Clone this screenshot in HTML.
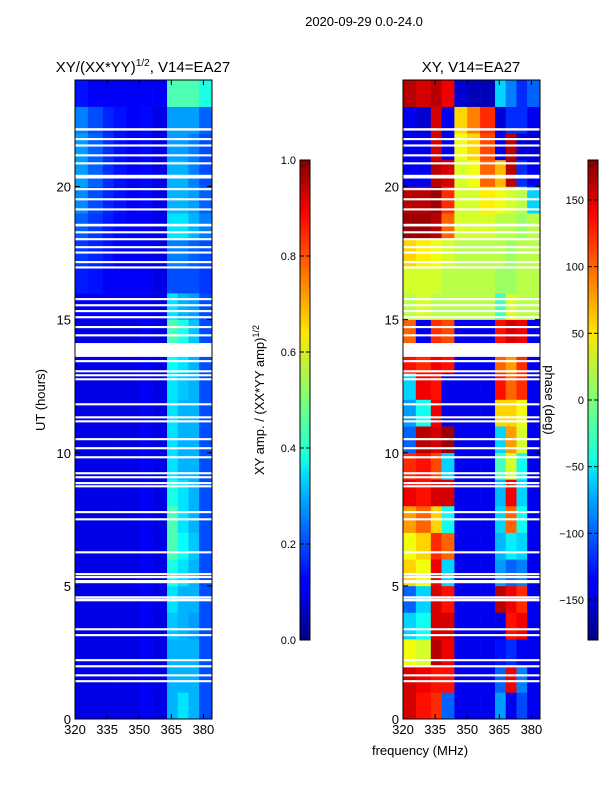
<!DOCTYPE html>
<html><head><meta charset="utf-8"><style>
body{margin:0;background:#fff;font-family:"Liberation Sans",sans-serif;}
svg text{font-family:"Liberation Sans",sans-serif;fill:#000;}
</style></head><body>
<svg id="fig" width="600" height="800" xmlns="http://www.w3.org/2000/svg">
<defs>
<linearGradient id="jet" x1="0" y1="1" x2="0" y2="0">
<stop offset="0" stop-color="#00007f"/><stop offset="0.11" stop-color="#0000ff"/>
<stop offset="0.125" stop-color="#0000ff"/><stop offset="0.34" stop-color="#00d5ff"/>
<stop offset="0.375" stop-color="#14ffe2"/><stop offset="0.5" stop-color="#7cff79"/>
<stop offset="0.64" stop-color="#ffe600"/><stop offset="0.75" stop-color="#ff8000"/>
<stop offset="0.89" stop-color="#ff0000"/><stop offset="1" stop-color="#7f0000"/>
</linearGradient>
</defs>
<text x="364" y="26" font-size="13" text-anchor="middle">2020-09-29 0.0-24.0</text>
<text x="143" y="72" font-size="15" text-anchor="middle">XY/(XX*YY)<tspan font-size="10" dy="-6">1/2</tspan><tspan dy="6">, V14=EA27</tspan></text>
<text x="471" y="72" font-size="15" text-anchor="middle">XY, V14=EA27</text>
<text x="45" y="400" font-size="13" text-anchor="middle" transform="rotate(-90 45 400)">UT (hours)</text>
<text x="420" y="755" font-size="13" text-anchor="middle">frequency (MHz)</text>
<text x="264" y="400" font-size="13" text-anchor="middle" transform="rotate(-90 264 400)">XY amp. / (XX*YY amp)<tspan font-size="9" dy="-5">1/2</tspan></text>
<text x="545" y="400" font-size="13" text-anchor="middle" transform="rotate(90 545 400)">phase (deg)</text>
<g id="left"></g>
<g id="right"></g>
<g id="axes"></g>
</svg>
<script>
const freqEdges=[320,326,333,338,344,350,356,363,368,373,378,384];
// rows: hour 0..23 (bottom to top)
const ampRows=[
[0.1,0.1,0.1,0.1,0.1,0.12,0.1,0.3,0.35,0.3,0.2],
[0.1,0.1,0.1,0.1,0.1,0.12,0.1,0.3,0.3,0.3,0.2],
[0.1,0.1,0.1,0.1,0.1,0.12,0.1,0.3,0.3,0.3,0.2],
[0.1,0.1,0.1,0.1,0.1,0.12,0.1,0.32,0.3,0.28,0.2],
[0.1,0.1,0.1,0.1,0.1,0.12,0.1,0.35,0.3,0.3,0.2],
[0.1,0.1,0.1,0.1,0.1,0.12,0.1,0.4,0.35,0.3,0.2],
[0.1,0.1,0.1,0.1,0.1,0.12,0.1,0.45,0.38,0.32,0.2],
[0.1,0.1,0.1,0.1,0.1,0.12,0.1,0.45,0.35,0.3,0.2],
[0.1,0.1,0.1,0.1,0.1,0.12,0.1,0.4,0.35,0.3,0.2],
[0.1,0.1,0.1,0.1,0.1,0.12,0.1,0.35,0.3,0.3,0.2],
[0.1,0.1,0.1,0.1,0.1,0.12,0.1,0.35,0.3,0.3,0.2],
[0.1,0.1,0.1,0.1,0.1,0.12,0.1,0.35,0.3,0.3,0.2],
[0.1,0.1,0.1,0.1,0.1,0.12,0.1,0.35,0.32,0.3,0.2],
[0.1,0.1,0.1,0.1,0.1,0.12,0.1,0.38,0.35,0.3,0.2],
[0.1,0.1,0.1,0.1,0.1,0.12,0.1,0.45,0.4,0.32,0.2],
[0.12,0.12,0.12,0.12,0.12,0.12,0.1,0.35,0.3,0.28,0.2],
[0.15,0.14,0.12,0.12,0.12,0.12,0.1,0.2,0.2,0.2,0.18],
[0.18,0.16,0.14,0.12,0.12,0.12,0.1,0.25,0.25,0.22,0.2],
[0.22,0.18,0.15,0.13,0.12,0.12,0.1,0.35,0.35,0.3,0.25],
[0.26,0.2,0.16,0.14,0.12,0.13,0.1,0.3,0.3,0.28,0.22],
[0.28,0.22,0.17,0.14,0.12,0.13,0.1,0.3,0.3,0.25,0.2],
[0.28,0.22,0.17,0.14,0.12,0.13,0.1,0.28,0.28,0.25,0.2],
[0.25,0.2,0.16,0.14,0.12,0.13,0.1,0.28,0.28,0.28,0.22],
[0.14,0.12,0.12,0.12,0.12,0.12,0.12,0.45,0.45,0.45,0.4]];
const phaseRows=[
[150,130,120,-100,-140,-140,-140,-80,-140,-110,-140],
[150,140,130,130,-140,-140,-140,-100,140,-90,-140],
[40,30,160,140,-140,-140,-140,-130,-120,-140,-140],
[-60,-40,150,150,-140,-140,-140,-140,130,140,-140],
[-100,-60,150,130,-140,-140,-140,160,140,120,-140],
[60,40,140,-60,-140,-140,-140,-80,-100,-90,-140],
[40,60,120,100,-140,-140,-140,-70,-50,-60,-140],
[80,100,60,-40,-140,-140,-140,-60,100,-40,-140],
[140,130,150,150,-140,-140,-140,-70,140,-60,-140],
[120,130,110,-60,-140,-140,-140,-20,30,-40,-140],
[-100,160,150,170,-140,-140,-140,-60,80,30,-140],
[-80,-40,140,-140,-140,-140,-140,60,60,40,-140],
[-60,140,130,-140,-140,-140,-140,130,100,120,-140],
[130,120,140,130,-140,-140,-140,100,80,120,-140],
[100,-140,120,110,-140,-140,-140,130,150,140,-140],
[20,30,20,20,20,20,20,-20,30,20,20],
[30,30,30,20,20,20,20,10,10,20,20],
[60,50,40,30,20,20,20,20,10,20,20],
[170,170,160,100,30,30,30,20,20,10,20],
[160,160,170,120,30,30,50,40,30,20,-60],
[-140,-140,160,150,30,40,100,70,160,-120,-140],
[-140,-140,150,-140,40,60,110,-140,160,-150,-150],
[-140,-150,150,-140,60,90,120,-150,-120,-120,-140],
[160,150,160,140,-150,-160,-160,-60,-90,-120,-100]];
// flagged (white) gaps: start UT, duration hours
const gapStart=[22.1,21.74,21.5,21.13,20.83,20.3,19.86,19.48,19.1,18.5,18.24,17.98,17.68,17.48,17.12,16.92,15.73,15.5,15.28,15.05,14.68,14.37,13.6,13.4,13.02,12.87,12.72,11.78,11.29,11.14,10.47,10.13,9.79,9.19,9.04,8.82,8.7,7.73,7.46,6.22,5.4,5.29,5.1,4.53,4.42,3.33,3.11,2.17,1.94,1.6,1.38];
const gapLen=[0.09,0.08,0.08,0.08,0.08,0.14,0.08,0.08,0.08,0.1,0.08,0.08,0.08,0.08,0.08,0.08,0.08,0.08,0.08,0.08,0.08,0.08,0.52,0.08,0.08,0.08,0.08,0.08,0.08,0.08,0.08,0.08,0.08,0.08,0.08,0.08,0.08,0.08,0.08,0.08,0.08,0.08,0.12,0.08,0.1,0.08,0.08,0.08,0.08,0.08,0.08];
const xTicks=[320,335,350,365,380];
const yTicks=[0,5,10,15,20];
const ampTicks=[0.0,0.2,0.4,0.6,0.8,1.0];
const phaseTicks=[-150,-100,-50,0,50,100,150];

const NS='http://www.w3.org/2000/svg';
const Y0=80,Y1=719;
function yUT(t){return Y1-(t/24)*(Y1-Y0);}
function xF(f,x0){return x0+(f-320)/(384-320)*137;}
function jet(v){v=Math.max(0,Math.min(1,v));
 const r=Math.min(4*v-1.5,-4*v+4.5),g=Math.min(4*v-0.5,-4*v+3.5),b=Math.min(4*v+0.5,-4*v+2.5);
 const c=x=>Math.round(255*Math.max(0,Math.min(1,x)));return `rgb(${c(r)},${c(g)},${c(b)})`;}
function mk(tag,attrs,parent){const e=document.createElementNS(NS,tag);for(const k in attrs)e.setAttribute(k,attrs[k]);parent.appendChild(e);return e;}
function heat(gid,x0,rows,norm){
 const g=document.getElementById(gid);
 rows.forEach((row,h)=>{row.forEach((v,c)=>{
  const x=xF(freqEdges[c],x0),w=xF(freqEdges[c+1],x0)-x;
  const y=yUT(h+1),hh=yUT(h)-y;
  const r=mk('rect',{x:x,y:y,width:w+0.3,height:hh+0.3,fill:jet(norm(v))},g);
  
  
 });});
 gapStart.forEach((s,i)=>{
  const y=yUT(s+gapLen[i]),hh=yUT(s)-y;
  const r=mk('rect',{x:x0,y:y,width:137,height:hh,fill:'#fff'},g);
  
  
 });
}
heat('left',75,ampRows,v=>v);
heat('right',403,phaseRows,v=>(v+180)/360);
const ax=document.getElementById('axes');
[75,403].forEach((x0,pi)=>{
 const fr=mk('rect',{x:x0,y:Y0,width:137,height:Y1-Y0,fill:'none',stroke:'#000','stroke-width':1},ax);
 
 
 xTicks.forEach(f=>{const x=xF(f,x0);
  mk('line',{x1:x,x2:x,y1:Y1,y2:Y1-5,stroke:'#000'},ax);
  mk('line',{x1:x,x2:x,y1:Y0,y2:Y0+5,stroke:'#000'},ax);
  const t=mk('text',{x:x,y:Y1+15,'font-size':13,'text-anchor':'middle'},ax);t.textContent=f;
  
  });
 yTicks.forEach(u=>{const y=yUT(u);
  mk('line',{x1:x0,x2:x0+5,y1:y,y2:y,stroke:'#000'},ax);
  mk('line',{x1:x0+137,x2:x0+132,y1:y,y2:y,stroke:'#000'},ax);
  const t=mk('text',{x:x0-4,y:y+5,'font-size':13,'text-anchor':'end'},ax);t.textContent=u;
  
  });
});
function cbar(x,ticks,lo,hi,fmt,name){
 const r=mk('rect',{x:x,y:160,width:10,height:480,fill:'url(#jet)',stroke:'#000','stroke-width':1},ax);
 
 
 ticks.forEach(v=>{const y=640-(v-lo)/(hi-lo)*480;
  mk('line',{x1:x,x2:x+4,y1:y,y2:y,stroke:'#000'},ax);
  mk('line',{x1:x+10,x2:x+6,y1:y,y2:y,stroke:'#000'},ax);
  const t=mk('text',{x:x-4,y:y+4,'font-size':11,'text-anchor':'end'},ax);t.textContent=fmt(v);
  
  });
}
cbar(300,ampTicks,0,1,v=>v.toFixed(1),'amp-colorbar');
cbar(588,phaseTicks,-180,180,v=>v<0?'\u2212'+(-v):''+v,'phase-colorbar');
</script>
</body></html>
